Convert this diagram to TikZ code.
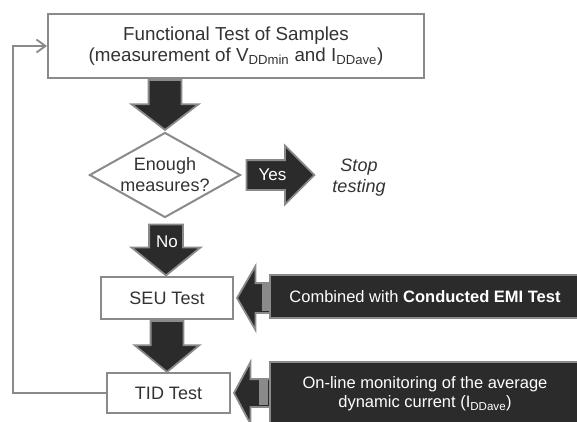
\documentclass[tikz,border=0pt]{standalone}
\usepackage{fontspec}
\setmainfont{Liberation Sans}
\usetikzlibrary{shapes.geometric,shapes.arrows,arrows.meta}
\definecolor{txtgray}{HTML}{333333}
\definecolor{edgegray}{HTML}{8A8A8A}
\definecolor{darkfill}{HTML}{2B2B2B}

\begin{document}
\begin{tikzpicture}[x=1pt,y=-1pt,
  stepbox/.style={draw=edgegray,line width=2pt,fill=white,text=txtgray,align=center,inner sep=0pt,font=\fontsize{18}{21}\selectfont},
  notebox/.style={draw=edgegray,line width=2pt,fill=darkfill,text=white,align=center,inner sep=0pt,font=\fontsize{16.5}{19}\selectfont},
  bigarrow/.style={single arrow,draw=edgegray,line width=1.8pt,fill=darkfill,inner xsep=0pt},
  arrowtext/.style={text=white,font=\fontsize{17}{20}\selectfont}]
\useasboundingbox (0,0) rectangle (577,421);

\node[stepbox,minimum width=376pt,minimum height=64pt,font=\fontsize{18.8}{21}\selectfont] (func) at (236,46) {Functional Test of Samples\\(measurement of V\textsubscript{DDmin} and I\textsubscript{DDave})};
\node[diamond,aspect=1.776,stepbox,minimum width=151pt,minimum height=85pt] (enough) at (165,175) {Enough\\measures?};
\node[stepbox,minimum width=132pt,minimum height=42pt] (seu) at (167,298) {SEU Test};
\node[stepbox,minimum width=123pt,minimum height=40pt] (tid) at (168.5,393) {TID Test};

% flow arrows
\node[bigarrow,rotate=-90,anchor=tail,minimum height=50pt,inner ysep=15.5pt,single arrow head extend=17pt,single arrow tip angle=105] (down1) at (func.south -| enough.north) {};
\node[bigarrow,anchor=tail,minimum height=68pt,inner ysep=14pt,single arrow head extend=14.5pt,single arrow tip angle=90] (yes) at ([xshift=4pt]enough.east) {};
\node[arrowtext] at ([xshift=27pt]yes.tail) {Yes};
\node[bigarrow,rotate=-90,anchor=tail,minimum height=51pt,inner ysep=16pt,single arrow head extend=17.5pt,single arrow tip angle=102] (no) at ([xshift=1pt,yshift=-5pt]enough.south) {};
\node[arrowtext] at ([xshift=1pt,yshift=-18pt]no.tail) {No};
\node[bigarrow,rotate=-90,anchor=tail,minimum height=51pt,inner ysep=15.5pt,single arrow head extend=16pt,single arrow tip angle=101] (down2) at (seu.south) {};

\node[text=txtgray,align=center,inner sep=0pt,font=\fontsize{18}{21}\selectfont\itshape] (stop) at (359,178) {Stop\\testing};

% side arrows coming in from the notes
\node[bigarrow,rotate=180,anchor=tip,minimum height=33pt,inner ysep=14pt,single arrow head extend=17pt,single arrow tip angle=120] (in1) at ([xshift=2pt]seu.east) {};
\node[bigarrow,rotate=180,anchor=tip,minimum height=36pt,inner ysep=13pt,single arrow head extend=17pt,single arrow tip angle=124] (in2) at ([xshift=2pt]tid.east) {};
\fill[edgegray] (262,283) rectangle (269,311);
\fill[edgegray] (259,379) rectangle (268,405);

\node[notebox,minimum width=310pt,minimum height=43pt,anchor=west] (emi) at (269,296.5) {Combined\ with \textbf{Conducted\ EMI\ Test}};
\node[notebox,minimum width=310pt,minimum height=64pt,anchor=north west] (monitor) at (269,361) {On-line monitoring of the average\\dynamic current (I\textsubscript{DDave})};

% loop back to the start
\coordinate (back) at (13,0);
\draw[edgegray,line width=1.8pt,-{Straight Barb[length=9pt,width=13pt]}] (tid.west) -- (tid.west -| back) |- (func.west);
\end{tikzpicture}
\end{document}
